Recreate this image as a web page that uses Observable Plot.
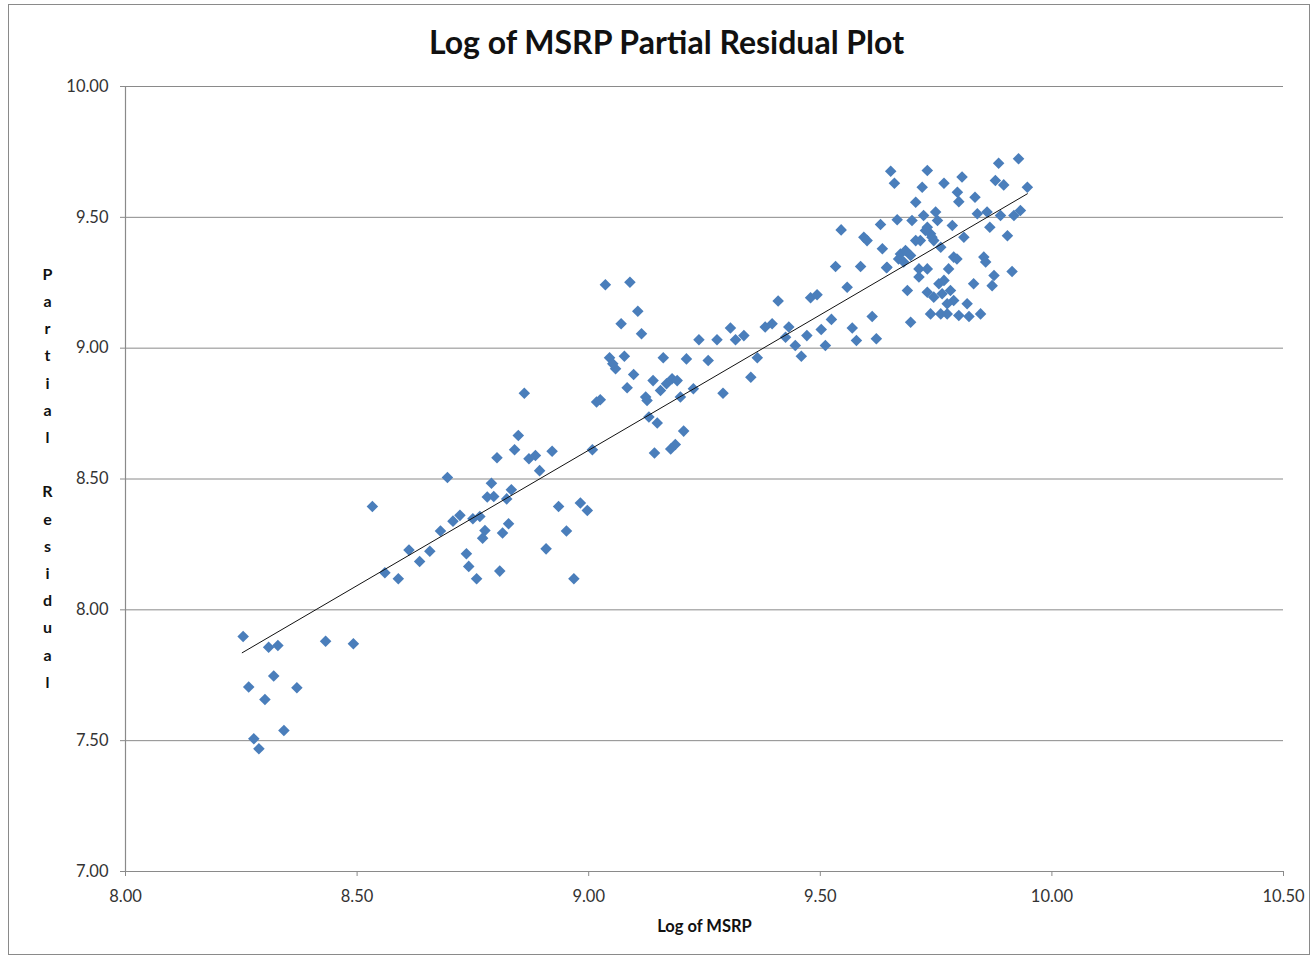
<!DOCTYPE html>
<html>
<head>
<meta charset="utf-8">
<script src="https://cdn.jsdelivr.net/npm/d3@7"></script>
<script src="https://cdn.jsdelivr.net/npm/@observablehq/plot@0.6"></script>
<style>
  html, body { margin: 0; padding: 0; background: #fff; }
  #wrap { position: relative; width: 1310px; height: 956px; }
  #border { position: absolute; left: 8px; top: 4px; width: 1300px; height: 949px; border: 1px solid #8a8a8a; pointer-events: none; }
  #chart { position: absolute; left: 0; top: 0; }
</style>
</head>
<body>
<div id="wrap"><div id="chart"></div><div id="border"></div></div>
<script>
const titleText = "Log of MSRP Partial Residual Plot";
const xLabel = "Log of MSRP";
const yLabel = "Partial Residual";
const xTicks = [8.0, 8.5, 9.0, 9.5, 10.0, 10.5];
const yTicks = [7.0, 7.5, 8.0, 8.5, 9.0, 9.5, 10.0];

const logMSRP = [
  8.254, 8.309, 8.329, 8.432, 8.492, 8.320, 8.266, 8.370, 8.301, 8.342, 8.277, 8.288,
  8.533, 8.560, 8.589, 8.612, 8.635, 8.657, 8.680, 8.695, 8.707, 8.722, 8.736, 8.741,
  8.758, 8.750, 8.765, 8.776, 8.771, 8.790, 8.781, 8.795, 8.833, 8.823, 8.827, 8.814,
  8.808, 8.935, 8.952, 8.908, 8.968, 8.982, 8.997, 8.861, 8.848, 8.840, 8.802, 8.871,
  8.885, 8.921, 8.894,
  9.036, 9.089, 9.106, 9.070, 9.114, 9.045, 9.058, 9.052, 9.077, 9.097, 9.083, 9.017,
  9.025, 9.139, 9.123, 9.126, 9.161, 9.155, 9.168, 9.180, 9.191, 9.198, 9.226, 9.211,
  9.258, 9.238, 9.277, 9.306, 9.317, 9.335, 9.290, 9.350, 9.364, 9.130, 9.148, 9.205,
  9.142, 9.177, 9.187, 9.008, 9.381, 9.396, 9.409, 9.432, 9.425, 9.446, 9.459, 9.471,
  9.479, 9.493, 9.502, 9.511, 9.524, 9.533, 9.558, 9.569, 9.578, 9.587, 9.612, 9.621,
  9.643,
  9.652, 9.660, 9.731, 9.720, 9.767, 9.806, 9.796, 9.799, 9.834, 9.885, 9.928, 9.878,
  9.896, 9.947, 9.706, 9.545, 9.594, 9.601, 9.630, 9.666, 9.698, 9.723, 9.749, 9.753,
  9.731, 9.738, 9.716, 9.745, 9.760, 9.785, 9.810, 9.839, 9.860, 9.889, 9.866, 9.918,
  9.932, 9.904, 9.634, 9.673, 9.684, 9.695, 9.669, 9.644, 9.713, 9.713, 9.731, 9.688,
  9.788, 9.795, 9.777, 9.853, 9.857, 9.914, 9.875, 9.871, 9.831, 9.756, 9.767, 9.731,
  9.745, 9.763, 9.781, 9.788, 9.774, 9.817, 9.738, 9.760, 9.774, 9.799, 9.821, 9.846,
  9.695, 9.680, 9.727, 9.741, 9.706
];
const partialResidual = [
  7.898, 7.857, 7.864, 7.880, 7.870, 7.747, 7.705, 7.702, 7.657, 7.539, 7.507, 7.469,
  8.395, 8.142, 8.119, 8.229, 8.185, 8.224, 8.301, 8.506, 8.339, 8.361, 8.214, 8.166,
  8.119, 8.348, 8.357, 8.303, 8.274, 8.484, 8.431, 8.433, 8.459, 8.424, 8.329, 8.294,
  8.148, 8.395, 8.301, 8.233, 8.119, 8.408, 8.380, 8.828, 8.666, 8.612, 8.581, 8.577,
  8.590, 8.606, 8.532,
  9.242, 9.252, 9.141, 9.093, 9.055, 8.963, 8.921, 8.940, 8.969, 8.899, 8.849, 8.794,
  8.803, 8.876, 8.813, 8.800, 8.963, 8.838, 8.864, 8.883, 8.876, 8.813, 8.845, 8.959,
  8.953, 9.032, 9.032, 9.077, 9.032, 9.048, 8.828, 8.889, 8.963, 8.737, 8.714, 8.683,
  8.599, 8.615, 8.632, 8.612, 9.081, 9.093, 9.180, 9.081, 9.042, 9.010, 8.969, 9.048,
  9.193, 9.204, 9.071, 9.010, 9.110, 9.312, 9.233, 9.077, 9.029, 9.312, 9.121, 9.036,
  9.307,
  9.676, 9.630, 9.679, 9.615, 9.630, 9.654, 9.596, 9.560, 9.577, 9.707, 9.724, 9.641,
  9.624, 9.615, 9.558, 9.452, 9.424, 9.411, 9.473, 9.491, 9.488, 9.507, 9.520, 9.488,
  9.462, 9.437, 9.411, 9.411, 9.386, 9.469, 9.424, 9.514, 9.520, 9.507, 9.462, 9.507,
  9.526, 9.430, 9.380, 9.360, 9.373, 9.354, 9.341, 9.309, 9.303, 9.272, 9.303, 9.220,
  9.348, 9.341, 9.303, 9.348, 9.329, 9.293, 9.278, 9.239, 9.246, 9.246, 9.259, 9.214,
  9.195, 9.208, 9.220, 9.182, 9.170, 9.170, 9.131, 9.131, 9.131, 9.125, 9.121, 9.131,
  9.099, 9.329, 9.450, 9.424, 9.411
];
const fitX = [8.252, 9.947];
const fitY = [7.836, 9.590];

const points = logMSRP.map((x, i) => ({x, y: partialResidual[i]}));
const fit = fitX.map((x, i) => ({x, y: fitY[i]}));
const fmt = d => d.toFixed(2);
const gridCol = "#8a8a8a";

const chart = Plot.plot({
  width: 1310,
  height: 956,
  marginLeft: 125,
  marginRight: 27,
  marginTop: 86,
  marginBottom: 85,
  style: {fontFamily: "Lato, 'Open Sans', sans-serif", fontSize: "16px", color: "#333", background: "transparent"},
  x: {domain: [8, 10.5]},
  y: {domain: [7, 10]},
  marks: [
    Plot.gridY(yTicks.filter(d => d > 7), {stroke: gridCol, strokeOpacity: 1, strokeWidth: 1}),
    Plot.ruleY([7], {stroke: gridCol, strokeWidth: 1.2}),
    Plot.ruleX([8], {stroke: gridCol, strokeWidth: 1.2}),
    Plot.axisX({ticks: xTicks, tickFormat: fmt, tickSize: 5, tickPadding: 14, stroke: gridCol, label: null, fontSize: 16.5}),
    Plot.axisY({ticks: yTicks, tickFormat: fmt, tickSize: 5, tickPadding: 12, stroke: gridCol, label: null, fontSize: 16.5}),
    Plot.dot(points, {x: "x", y: "y", symbol: "diamond2", r: 5.2, fill: "#4a7ebb", stroke: "none"}),
    Plot.line(fit, {x: "x", y: "y", stroke: "#111", strokeWidth: 1}),
    Plot.text([titleText], {text: d => d, frameAnchor: "top", dx: -38, dy: -55, fontSize: 32, fontWeight: "bold", fill: "#111"}),
    Plot.text([xLabel], {text: d => d, frameAnchor: "bottom", dy: 60, fontSize: 16.5, fontWeight: "bold", fill: "#111"}),
    Plot.text([yLabel.split("").join("\n")], {text: d => d, frameAnchor: "left", dx: -78, dy: -4, textAnchor: "middle", lineHeight: 27.2 / 16, fontSize: 16, fontWeight: "bold", fill: "#111"})
  ]
});
document.getElementById("chart").appendChild(chart);
</script>
</body>
</html>
